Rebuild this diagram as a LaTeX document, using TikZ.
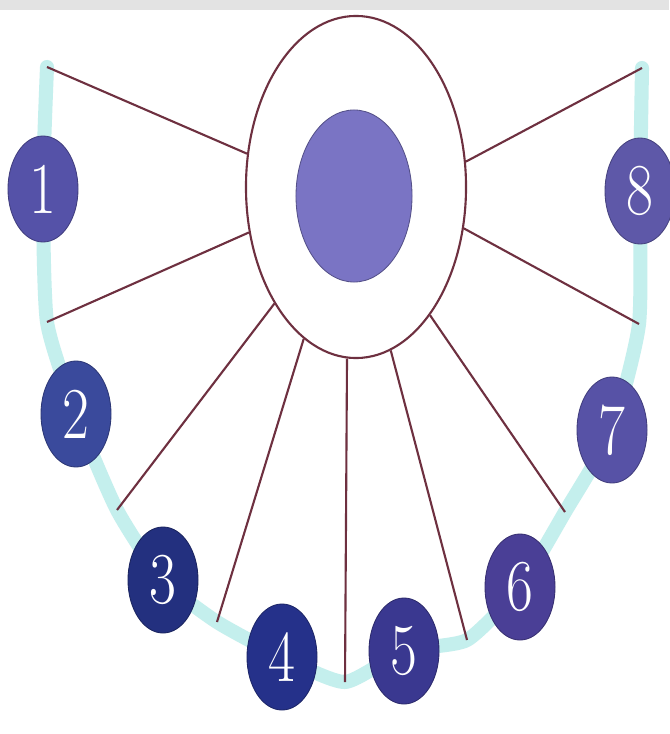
\documentclass[tikz,border=0pt]{standalone}
\usetikzlibrary{shapes.geometric}

\definecolor{spoke}{HTML}{6E3040}
\definecolor{band}{HTML}{C4EFED}
\definecolor{topgray}{HTML}{E3E3E3}
\definecolor{coreblue}{HTML}{7A74C4}
\definecolor{numA}{HTML}{5552A8}
\definecolor{numB}{HTML}{3A4A9C}
\definecolor{numC}{HTML}{23307F}
\definecolor{numD}{HTML}{25318A}
\definecolor{numE}{HTML}{3A3890}
\definecolor{numF}{HTML}{4A3F96}
\definecolor{numG}{HTML}{5752A6}
\definecolor{numH}{HTML}{5E58A8}
\newcommand\numlabel[1]{\scalebox{0.8}[1]{\fontsize{52}{52}\selectfont #1}}

\begin{document}
\begin{tikzpicture}[x=0.025cm, y=-0.025cm]
  \tikzset{
    spoke_line/.style={draw=spoke, line width=1.5pt},
    num_node/.style={ellipse, draw=#1!75!black, fill=#1, line width=0.6pt,
      minimum width=1.75cm, minimum height=2.65cm, inner sep=0pt, text=white},
  }

  % frame
  \fill[white] (0,0) rectangle (669,734);
  \fill[topgray] (0,0) rectangle (669,10);
  \useasboundingbox (0,0) rectangle (669,734);

  % free ends of the spokes
  \coordinate (end_1) at (47,67);
  \coordinate (end_2) at (47,322);
  \coordinate (end_3) at (117,510);
  \coordinate (end_4) at (217,622);
  \coordinate (end_5) at (345,682);
  \coordinate (end_6) at (467,640);
  \coordinate (end_7) at (565,512);
  \coordinate (end_8) at (639,324);
  \coordinate (end_9) at (642,68);

  % number places
  \coordinate (pos_1) at (43,189);
  \coordinate (pos_2) at (76,414);
  \coordinate (pos_3) at (163,580);
  \coordinate (pos_4) at (282,657);
  \coordinate (pos_5) at (404,651);
  \coordinate (pos_6) at (520,587);
  \coordinate (pos_7) at (612,430);
  \coordinate (pos_8) at (640,191);

  % band
  \draw[band, line width=10pt, line cap=round, line join=round]
    plot[smooth, tension=0.35] coordinates {(end_1) (pos_1) (end_2) (pos_2) (end_3)
      (pos_3) (end_4) (pos_4) (end_5) (pos_5) (end_6) (pos_6) (end_7) (pos_7)
      (end_8) (pos_8) (end_9)};

  % ring and core
  \node[ellipse, draw=spoke, line width=1.5pt, fill=white, minimum width=5.5cm,
    minimum height=8.55cm, inner sep=0pt] (ring) at (356,187) {};
  \node[ellipse, draw=coreblue!70!black, fill=coreblue, line width=0.6pt,
    minimum width=2.9cm, minimum height=4.3cm, inner sep=0pt] (core) at (354,196) {};

  % spokes
  \draw[spoke_line] (ring.163.8) -- (end_1);
  \draw[spoke_line] (ring.203.6) -- (end_2);
  \draw[spoke_line] (ring.235.6) -- (end_3);
  \draw[spoke_line] (ring.251.9) -- (end_4);
  \draw[spoke_line] (ring.267.3) -- (end_5);
  \draw[spoke_line] (ring.282.1) -- (end_6);
  \draw[spoke_line] (ring.300.6) -- (end_7);
  \draw[spoke_line] (ring.339.6) -- (end_8);
  \draw[spoke_line] (ring.13.7) -- (end_9);

  % numbers
  \node[num_node=numA] (num_1) at (pos_1) {\numlabel{1}};
  \node[num_node=numB] (num_2) at (pos_2) {\numlabel{2}};
  \node[num_node=numC] (num_3) at (pos_3) {\numlabel{3}};
  \node[num_node=numD] (num_4) at (pos_4) {\numlabel{4}};
  \node[num_node=numE] (num_5) at (pos_5) {\numlabel{5}};
  \node[num_node=numF] (num_6) at (pos_6) {\numlabel{6}};
  \node[num_node=numG] (num_7) at (pos_7) {\numlabel{7}};
  \node[num_node=numH] (num_8) at (pos_8) {\numlabel{8}};
\end{tikzpicture}
\end{document}
